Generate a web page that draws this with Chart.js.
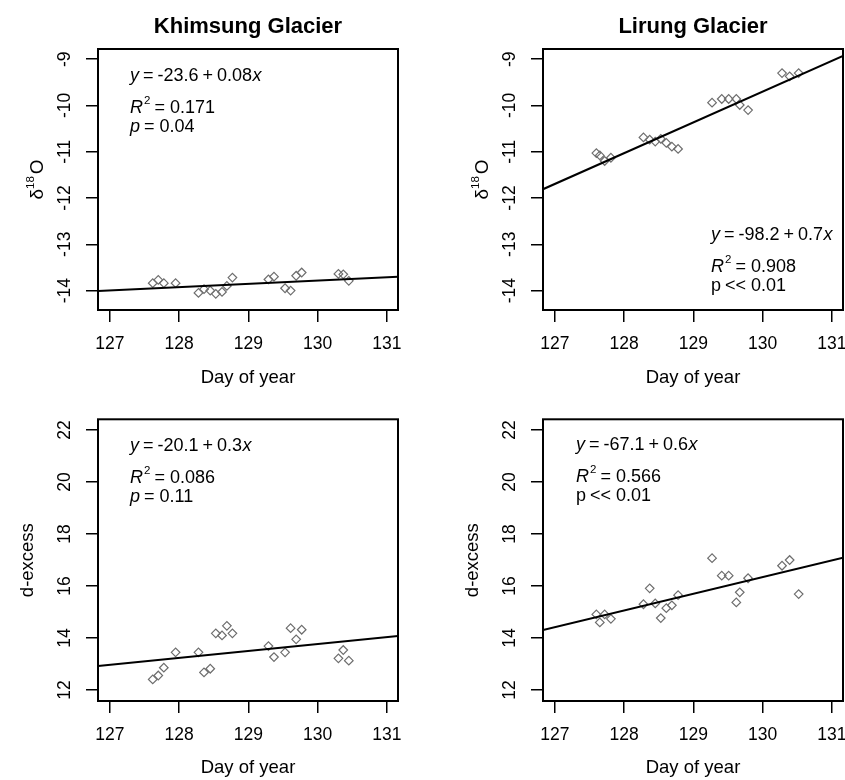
<!DOCTYPE html>
<html>
<head>
<meta charset="utf-8">
<script src="https://cdn.jsdelivr.net/npm/chart.js@4.4.0/dist/chart.umd.min.js"></script>
<style>
  html, body { margin: 0; padding: 0; background: #fff; overflow: hidden; }
  body { width: 845px; height: 780px; position: relative; }
  .panel { position: absolute; width: 440px; height: 390px; }
</style>
</head>
<body>
<div class="panel" style="left:0;top:0"><canvas id="khimO18" width="440" height="390"></canvas></div>
<div class="panel" style="left:445px;top:0"><canvas id="lirO18" width="440" height="390"></canvas></div>
<div class="panel" style="left:0;top:390px"><canvas id="khimDex" width="440" height="390"></canvas></div>
<div class="panel" style="left:445px;top:390px"><canvas id="lirDex" width="440" height="390"></canvas></div>
<script>
// sampling days (day of year) for each glacier
const khimDays = [127.62, 127.70, 127.78, 127.95, 128.28, 128.36, 128.45, 128.53, 128.62, 128.69,
                  128.77, 129.29, 129.37, 129.53, 129.61, 129.69, 129.77, 130.30, 130.37, 130.45];
const lirDays = [127.60, 127.65, 127.72, 127.81, 128.28, 128.37, 128.45, 128.53, 128.61, 128.69,
                 128.78, 129.27, 129.41, 129.51, 129.62, 129.67, 129.79, 130.28, 130.39, 130.52];

// d18O and d-excess values
const khimO18 = [-13.84, -13.77, -13.84, -13.84, -14.05, -13.97, -14.00, -14.07, -14.03, -13.90,
                 -13.72, -13.76, -13.70, -13.95, -14.00, -13.68, -13.61, -13.64, -13.65, -13.79];
const lirO18 = [-11.03, -11.08, -11.20, -11.13, -10.69, -10.74, -10.78, -10.72, -10.81, -10.89,
                -10.94, -9.94, -9.86, -9.86, -9.86, -9.99, -10.10, -9.30, -9.37, -9.30];
const khimDex = [12.41, 12.56, 12.86, 13.45, 13.45, 12.68, 12.82, 14.18, 14.10, 14.47,
                 14.18, 13.69, 13.27, 13.45, 14.38, 13.95, 14.32, 13.22, 13.54, 13.13];
const lirDex = [14.91, 14.60, 14.91, 14.74, 15.30, 15.91, 15.33, 14.77, 15.15, 15.26,
                15.65, 17.07, 16.40, 16.40, 15.37, 15.76, 16.30, 16.78, 17.00, 15.69];

// fitted line values at the two ends of the day axis
const dayRange = [126.83, 131.16];
const khimO18Fit = [-14.01, -13.70];
const lirO18Fit = [-11.81, -8.93];
const khimDexFit = [12.93, 14.08];
const lirDexFit = [14.31, 17.09];

// axis ranges and ticks
const o18Range = [-14.42, -8.78];
const dexRange = [11.58, 22.41];
const dayTicks = [127, 128, 129, 130, 131];
const o18Ticks = [-14, -13, -12, -11, -10, -9];
const dexTicks = [12, 14, 16, 18, 20, 22];

// regression labels
const fitIntercepts = ['-23.6', '-98.2', '-20.1', '-67.1'];
const fitSlopes = ['0.08', '0.7', '0.3', '0.6'];
const rSquared = ['0.171', '0.908', '0.086', '0.566'];
const pValues = ['= 0.04', '<< 0.01', '= 0.11', '<< 0.01'];
const pItalic = [true, false, true, false];

const FONT = "'Liberation Sans', Arial, sans-serif";

// draws a run of text pieces left to right; each piece: [text, italic, size, rise, gapAfter]
function drawRun(ctx, x, y, pieces) {
  pieces.forEach(([t, it, size, rise, gap]) => {
    ctx.font = `${it ? 'italic ' : ''}${size}px ${FONT}`;
    ctx.fillText(t, x, y - rise);
    x += ctx.measureText(t).width + gap;
  });
}

const panelText = {
  id: 'panelText',
  afterDraw(chart, args, o) {
    const { ctx, chartArea: a } = chart;
    const ys = chart.scales.y;
    ctx.save();
    ctx.fillStyle = '#000';

    // plot frame
    ctx.strokeStyle = '#000';
    ctx.lineWidth = 2;
    ctx.strokeRect(a.left, a.top, a.right - a.left, a.bottom - a.top);

    // y tick labels, parallel to the axis
    ctx.font = `17.5px ${FONT}`;
    ctx.textAlign = 'center';
    ctx.textBaseline = 'middle';
    ys.ticks.forEach((t) => {
      ctx.save();
      ctx.translate(a.left - 33, ys.getPixelForValue(t.value));
      ctx.rotate(-Math.PI / 2);
      ctx.fillText(String(t.value), 0, 0);
      ctx.restore();
    });

    // title
    if (o.title) {
      ctx.font = `bold 22px ${FONT}`;
      ctx.textBaseline = 'alphabetic';
      ctx.fillText(o.title, (a.left + a.right) / 2, 33);
    }

    // y axis title
    const midY = (a.top + a.bottom) / 2;
    ctx.save();
    ctx.textAlign = 'left';
    ctx.textBaseline = 'alphabetic';
    if (o.isO18) {
      ctx.translate(43, midY);
      ctx.rotate(-Math.PI / 2);
      const parts = [['δ', false, 19, 0, 0], ['18', false, 11.5, 9, 2], ['O', false, 19, 0, 0]];
      let w = 0;
      parts.forEach(([t, it, s, r, g]) => { ctx.font = `${s}px ${FONT}`; w += ctx.measureText(t).width + g; });
      drawRun(ctx, -w / 2, 0, parts);
    } else {
      ctx.translate(33, midY);
      ctx.rotate(-Math.PI / 2);
      ctx.font = `18.5px ${FONT}`;
      ctx.textAlign = 'center';
      ctx.fillText('d-excess', 0, 0);
    }
    ctx.restore();

    // regression statistics
    const i = o.stat;
    const x0 = a.left + o.textAt[0];
    const y0 = a.top + o.textAt[1];
    ctx.textAlign = 'left';
    ctx.textBaseline = 'alphabetic';
    drawRun(ctx, x0, y0, [
      ['y', true, 18, 0, 4], ['=', false, 18, 0, 4], [fitIntercepts[i], false, 18, 0, 4],
      ['+', false, 18, 0, 4], [fitSlopes[i], false, 18, 0, 0.5], ['x', true, 18, 0, 0]
    ]);
    drawRun(ctx, x0, y0 + 31.5, [
      ['R', true, 18, 0, 1], ['2', false, 11.5, 8.5, 4], ['= ' + rSquared[i], false, 18, 0, 0]
    ]);
    drawRun(ctx, x0, y0 + 50.5, [
      ['p', pItalic[i], 18, 0, 4], [pValues[i], false, 18, 0, 0]
    ]);
    ctx.restore();
  }
};

function makePanel(id, days, values, fit, yRange, yTicks, opts) {
  const gridOpts = { drawOnChartArea: false, drawTicks: true, tickLength: 12, color: '#000', lineWidth: 1.5 };
  return new Chart(document.getElementById(id), {
    type: 'scatter',
    data: {
      datasets: [
        {
          data: dayRange.map((d, k) => ({ x: d, y: fit[k] })),
          showLine: true,
          borderColor: '#000',
          borderWidth: 2,
          pointRadius: 0,
          order: 0
        },
        {
          data: days.map((d, k) => ({ x: d, y: values[k] })),
          pointStyle: 'rectRot',
          pointRadius: 4.3,
          pointBorderColor: '#6e6e6e',
          pointBackgroundColor: 'rgba(0,0,0,0)',
          pointBorderWidth: 1.2,
          order: 1
        }
      ]
    },
    options: {
      responsive: false,
      animation: false,
      events: [],
      layout: { padding: { left: 0, right: 42, top: opts.top, bottom: 0 } },
      plugins: {
        legend: { display: false },
        tooltip: { enabled: false },
        panelText: opts
      },
      scales: {
        x: {
          type: 'linear',
          min: dayRange[0],
          max: dayRange[1],
          afterBuildTicks: (s) => { s.ticks = dayTicks.map((v) => ({ value: v })); },
          afterFit: (s) => { s.height = 390 - opts.top - opts.plotH; },
          grid: gridOpts,
          border: { display: false },
          ticks: { color: '#000', padding: 12, maxRotation: 0, font: { family: FONT, size: 17.5 } },
          title: {
            display: true,
            text: 'Day of year',
            color: '#000',
            font: { family: FONT, size: 18.5 },
            padding: { top: 0, bottom: 1 }
          }
        },
        y: {
          min: yRange[0],
          max: yRange[1],
          afterBuildTicks: (s) => { s.ticks = yTicks.map((v) => ({ value: v })); },
          afterFit: (s) => { s.width = 98; },
          grid: gridOpts,
          border: { display: false },
          ticks: { display: false }
        }
      }
    },
    plugins: [panelText]
  });
}

makePanel('khimO18', khimDays, khimO18, khimO18Fit, o18Range, o18Ticks,
  { title: 'Khimsung Glacier', isO18: true, stat: 0, textAt: [32, 32], top: 49, plotH: 261 });
makePanel('lirO18', lirDays, lirO18, lirO18Fit, o18Range, o18Ticks,
  { title: 'Lirung Glacier', isO18: true, stat: 1, textAt: [168, 191], top: 49, plotH: 261 });
makePanel('khimDex', khimDays, khimDex, khimDexFit, dexRange, dexTicks,
  { isO18: false, stat: 2, textAt: [32, 32], top: 29.3, plotH: 281.7 });
makePanel('lirDex', lirDays, lirDex, lirDexFit, dexRange, dexTicks,
  { isO18: false, stat: 3, textAt: [33, 31], top: 29.3, plotH: 281.7 });
</script>
</body>
</html>
